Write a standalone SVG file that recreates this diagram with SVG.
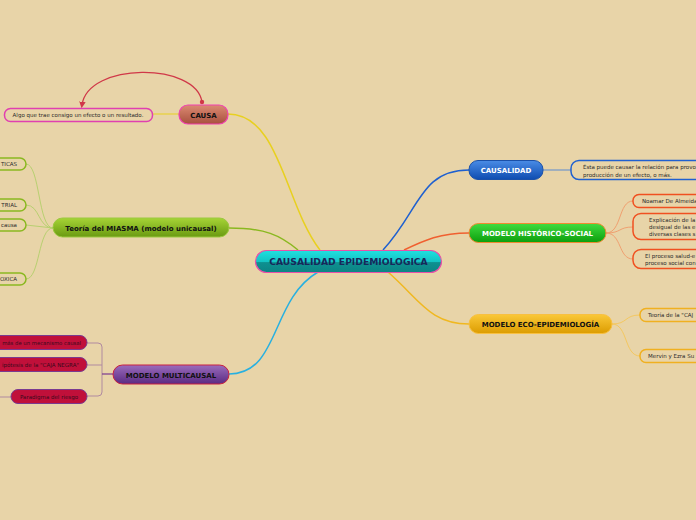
<svg xmlns="http://www.w3.org/2000/svg" width="696" height="520" viewBox="0 0 696 520">
<defs>
<linearGradient id="gCenter" x1="0" y1="0" x2="0" y2="1"><stop offset="0" stop-color="#20e0e0"/><stop offset="0.5" stop-color="#14c4c4"/><stop offset="0.55" stop-color="#0e9090"/><stop offset="1" stop-color="#0c8484"/></linearGradient>
<linearGradient id="gCausa" x1="0" y1="0" x2="0" y2="1"><stop offset="0" stop-color="#dc8a72"/><stop offset="1" stop-color="#a8503e"/></linearGradient>
<linearGradient id="gMiasma" x1="0" y1="0" x2="0" y2="1"><stop offset="0" stop-color="#a6d436"/><stop offset="1" stop-color="#6a9a12"/></linearGradient>
<linearGradient id="gMulti" x1="0" y1="0" x2="0" y2="1"><stop offset="0" stop-color="#9a6cbc"/><stop offset="1" stop-color="#5a2a82"/></linearGradient>
<linearGradient id="gCausal" x1="0" y1="0" x2="0" y2="1"><stop offset="0" stop-color="#4a8ce6"/><stop offset="1" stop-color="#0e4cb0"/></linearGradient>
<linearGradient id="gHist" x1="0" y1="0" x2="0" y2="1"><stop offset="0" stop-color="#40dc40"/><stop offset="1" stop-color="#0c9e0c"/></linearGradient>
<linearGradient id="gEco" x1="0" y1="0" x2="0" y2="1"><stop offset="0" stop-color="#fac838"/><stop offset="1" stop-color="#dc9c00"/></linearGradient>
<marker id="arr" viewBox="0 0 10 10" refX="5" refY="5" markerWidth="5" markerHeight="5" orient="auto-start-reverse"><path d="M0,0 L10,5 L0,10 z" fill="#d03848"/></marker>
</defs>
<style>
.tb{font-family:"DejaVu Sans",Verdana,sans-serif;font-weight:bold;font-size:7px;text-anchor:middle;}
.s{font-family:"DejaVu Sans",Verdana,sans-serif;font-size:5.5px;fill:#2a2a2a;}
.d{fill:#3a0a1a;}
.leaf{fill:none;stroke-width:1.5;}
.c{fill:none;}
</style>
<rect width="696" height="520" fill="#e8d4a8"/>

<g id="connectors">
<path class="c" d="M228,114 C280,114 285,205 320,250" stroke="#e8d020" stroke-width="1.5"/>
<path class="c" d="M229,228 C265,228 280,235 298,250" stroke="#8ab820" stroke-width="1.5"/>
<path class="c" d="M383,250 C420,210 420,170 469,170" stroke="#1e60d0" stroke-width="1.5"/>
<path class="c" d="M404,250 C425,240 440,233 469,233" stroke="#f06030" stroke-width="1.5"/>
<path class="c" d="M318,272 C270,300 280,374 229,374" stroke="#28b0e0" stroke-width="1.5"/>
<path class="c" d="M388,272 C420,300 430,324 469,324" stroke="#f0b820" stroke-width="1.5"/>
<line x1="152" y1="114" x2="179" y2="114" stroke="#e8d020" stroke-width="1"/>
<path class="c" d="M202,102 C196,62 88,62 82,105" stroke="#d03848" stroke-width="1.3" marker-end="url(#arr)"/>
<circle cx="202" cy="102" r="2.2" fill="#d03848"/>
<g stroke="#b8d070" stroke-width="1" fill="none">
<path d="M53,228 C38,228 40,164 26,164"/>
<path d="M53,228 C38,228 40,205 26,205"/>
<path d="M53,228 L26,225"/>
<path d="M53,228 C38,228 40,279 26,279"/>
</g>
<line x1="543" y1="170" x2="571" y2="170" stroke="#5a8ad0" stroke-width="1"/>
<g stroke="#f0a070" stroke-width="1" fill="none">
<path d="M606,233 C622,233 618,201 633,201"/>
<path d="M606,233 C622,233 618,227 633,227"/>
<path d="M606,233 C622,233 618,259 633,259"/>
</g>
<g stroke="#f4c860" stroke-width="1" fill="none">
<path d="M612,324 C628,324 624,315 640,315"/>
<path d="M612,324 C628,324 624,356 640,356"/>
</g>
<g stroke="#b08aa0" stroke-width="1" fill="none">
<path d="M87,343 L98,343 Q102,343 102,347 L102,392 Q102,396 98,396 L87,396"/>
<path d="M87,365 L102,365"/>
<line x1="0" y1="397" x2="11" y2="397"/>
</g>
<line x1="102" y1="374" x2="113" y2="374" stroke="#7a3a90" stroke-width="1.2"/>
</g>

<g id="center">
<rect x="255.5" y="250.5" width="186" height="22" rx="11" fill="url(#gCenter)" stroke="#e850a8" stroke-width="1.2"/>
<text class="tb" x="348.5" y="264.5" fill="#17285a" style="font-size:9.2px">CAUSALIDAD EPIDEMIOLOGICA</text>
</g>

<g id="causa">
<rect x="179" y="105" width="49" height="19" rx="9" fill="url(#gCausa)" stroke="#f040b0" stroke-width="1.2"/>
<text class="tb" x="203.5" y="117.5" fill="#111">CAUSA</text>
</g>
<g id="causa-def">
<rect class="leaf" x="4.5" y="108.5" width="148" height="13" rx="6" stroke="#e040b0"/>
<text class="s" x="78" y="117" text-anchor="middle">Algo que trae consigo un efecto o un resultado.</text>
</g>

<g id="miasma">
<rect x="53" y="218" width="176" height="19" rx="9.5" fill="url(#gMiasma)" stroke="#9cc840" stroke-width="1"/>
<text class="tb" x="141" y="230.5" fill="#111">Teoría del MIASMA (modelo unicausal)</text>
</g>
<g id="m1"><rect class="leaf" x="-20" y="158" width="46" height="12" rx="6" stroke="#8ab820"/><text class="s" x="17" y="166" text-anchor="end">TICAS</text></g>
<g id="m2"><rect class="leaf" x="-20" y="199" width="46" height="12" rx="6" stroke="#8ab820"/><text class="s" x="17" y="207" text-anchor="end">TRIAL</text></g>
<g id="m3"><rect class="leaf" x="-20" y="219" width="46" height="12" rx="6" stroke="#8ab820"/><text class="s" x="17" y="227" text-anchor="end">causa</text></g>
<g id="m4"><rect class="leaf" x="-20" y="273" width="46" height="12" rx="6" stroke="#8ab820"/><text class="s" x="17" y="281" text-anchor="end">OXICA</text></g>

<g id="multicausal">
<rect x="113" y="365" width="116" height="19" rx="9.5" fill="url(#gMulti)" stroke="#c82040" stroke-width="1"/>
<text class="tb" x="171" y="377.5" fill="#111">MODELO MULTICAUSAL</text>
</g>
<g id="mc1"><rect x="-20" y="335.5" width="107" height="14" rx="7" fill="#c0103a" stroke="#7a3a90" stroke-width="1"/><text class="s d" x="81" y="344.5" text-anchor="end" style="font-size:5.3px">más de un mecanismo causal</text></g>
<g id="mc2"><rect x="-20" y="357.5" width="107" height="14" rx="7" fill="#c0103a" stroke="#7a3a90" stroke-width="1"/><text class="s d" x="79" y="366.5" text-anchor="end">ipótesis de la "CAJA NEGRA"</text></g>
<g id="mc3"><rect x="11" y="389.5" width="76" height="14" rx="7" fill="#c0103a" stroke="#7a3a90" stroke-width="1"/><text class="s d" x="49" y="398.5" text-anchor="middle">Paradigma del riesgo</text></g>

<g id="causalidad">
<rect x="469" y="160.5" width="74" height="19" rx="9" fill="url(#gCausal)" stroke="#1a50a8" stroke-width="1"/>
<text class="tb" x="506" y="173" fill="#fff">CAUSALIDAD</text>
</g>
<g id="causalidad-def">
<rect class="leaf" x="571" y="160.5" width="150" height="19" rx="8" stroke="#2060d0"/>
<text class="s" x="583" y="169">Ésta puede causar la relación para provo</text>
<text class="s" x="583" y="176.5">producción de un efecto, o más.</text>
</g>

<g id="historico">
<rect x="469" y="223.5" width="137" height="19" rx="9.5" fill="url(#gHist)" stroke="#f08a30" stroke-width="1"/>
<text class="tb" x="537.5" y="236" fill="#fff">MODELO HISTÓRICO-SOCIAL</text>
</g>
<g id="h1"><rect class="leaf" x="633" y="194.5" width="80" height="13" rx="6" stroke="#f05020"/><text class="s" x="642" y="203">Noamar De Almeida</text></g>
<g id="h2"><rect class="leaf" x="633" y="213.5" width="80" height="26" rx="8" stroke="#f05020"/><text class="s" x="649" y="222">Explicación de la</text><text class="s" x="649" y="229">desigual de las e</text><text class="s" x="649" y="236">diversas clases s</text></g>
<g id="h3"><rect class="leaf" x="633" y="249.5" width="80" height="19" rx="8" stroke="#f05020"/><text class="s" x="645" y="258">El proceso salud-e</text><text class="s" x="645" y="265">proceso social con</text></g>

<g id="eco">
<rect x="469" y="314.5" width="143" height="19" rx="9.5" fill="url(#gEco)" stroke="#f8c040" stroke-width="1"/>
<text class="tb" x="540.5" y="327" fill="#111">MODELO ECO-EPIDEMIOLOGÍA</text>
</g>
<g id="e1"><rect class="leaf" x="640" y="308.5" width="70" height="13" rx="6" stroke="#f0b020"/><text class="s" x="648" y="317">Teoría de la "CAJ</text></g>
<g id="e2"><rect class="leaf" x="640" y="349.5" width="70" height="13" rx="6" stroke="#f0b020"/><text class="s" x="648" y="358">Mervin y Ezra Su</text></g>
</svg>
